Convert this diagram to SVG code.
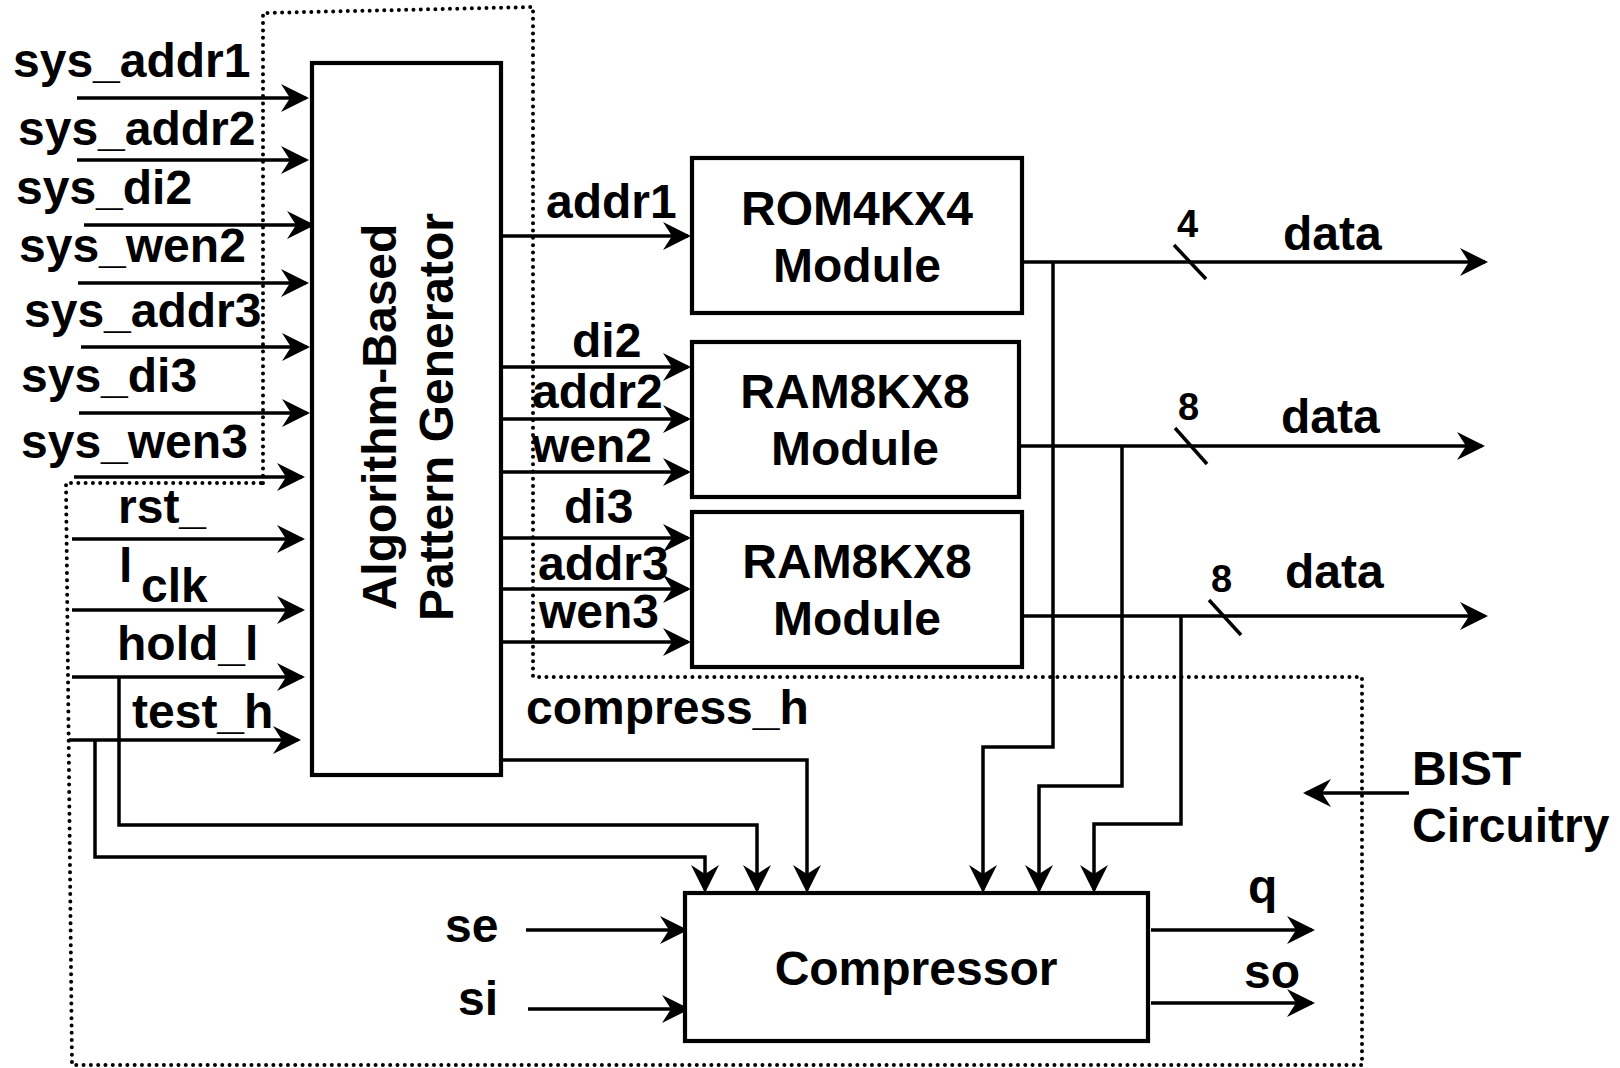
<svg xmlns="http://www.w3.org/2000/svg" width="1620" height="1068" viewBox="0 0 1620 1068">
<style>
.box{fill:#fff;stroke:#000;stroke-width:4.2}
.w{fill:none;stroke:#000;stroke-width:3.5;stroke-linejoin:miter}
.a{fill:none;stroke:#000;stroke-width:3.5;marker-end:url(#ah)}
.dot{fill:none;stroke:#000;stroke-width:4;stroke-linecap:round;stroke-dasharray:0 7.3}
text{font-family:"Liberation Sans",Arial,Helvetica,sans-serif;font-weight:bold;font-size:48px;fill:#000}
.c{text-anchor:middle}
.n{font-size:38px}
</style>
<defs>
<marker id="ah" markerUnits="userSpaceOnUse" viewBox="0 0 28 28" markerWidth="28" markerHeight="28" refX="25" refY="14" orient="auto">
<path d="M28,14 L0,0 L9,14 L0,28 Z" fill="#000"/>
</marker>
</defs>
<rect width="1620" height="1068" fill="#fff"/>

<g id="bist-boundary">
<path class="dot" d="M263,483 L263,13 L533,7 L533,677 L1362,677 L1362,1065 L72,1065 L66,483 Z"/>
</g>

<g id="connectors">
<line class="a" x1="77" y1="98" x2="306" y2="98"/>
<line class="a" x1="77" y1="160" x2="306" y2="160"/>
<line class="a" x1="84" y1="225" x2="312" y2="225"/>
<line class="a" x1="78" y1="283" x2="306" y2="283"/>
<line class="a" x1="81" y1="347" x2="307" y2="347"/>
<line class="a" x1="79" y1="413" x2="307" y2="413"/>
<line class="a" x1="74" y1="477" x2="302" y2="477"/>
<line class="a" x1="72" y1="539" x2="302" y2="539"/>
<line class="a" x1="72" y1="610" x2="302" y2="610"/>
<line class="a" x1="72" y1="677" x2="302" y2="677"/>
<line class="a" x1="69" y1="740" x2="298" y2="740"/>
<polyline class="a" points="119,677 119,825 757,825 757,890"/>
<polyline class="a" points="95,740 95,857 705,857 705,890"/>
<polyline class="a" points="501,760 807,760 807,890"/>
<line class="a" x1="501" y1="236" x2="688" y2="236"/>
<line class="a" x1="501" y1="367" x2="688" y2="367"/>
<line class="a" x1="501" y1="419" x2="688" y2="419"/>
<line class="a" x1="501" y1="472" x2="688" y2="472"/>
<line class="a" x1="501" y1="538" x2="688" y2="538"/>
<line class="a" x1="501" y1="589" x2="688" y2="589"/>
<line class="a" x1="501" y1="642" x2="688" y2="642"/>
<line class="a" x1="1022" y1="262" x2="1485" y2="262"/>
<line class="a" x1="1019" y1="446" x2="1482" y2="446"/>
<line class="a" x1="1022" y1="616" x2="1485" y2="616"/>
<polyline class="a" points="1053,262 1053,747 983,747 983,890"/>
<polyline class="a" points="1122,446 1122,786 1039,786 1039,890"/>
<polyline class="a" points="1181,616 1181,824 1094,824 1094,890"/>
<line class="w" x1="1174" y1="245" x2="1206" y2="279"/>
<line class="w" x1="1175" y1="428" x2="1207" y2="464"/>
<line class="w" x1="1209" y1="600" x2="1241" y2="635"/>
<line class="a" x1="526" y1="930" x2="685" y2="930"/>
<line class="a" x1="528" y1="1009" x2="687" y2="1009"/>
<line class="a" x1="1151" y1="930" x2="1312" y2="930"/>
<line class="a" x1="1151" y1="1003" x2="1312" y2="1003"/>
<line class="a" x1="1409" y1="793" x2="1306" y2="793"/>
</g>

<g id="pattern-generator">
<rect class="box" x="312" y="63" width="189" height="712"/>
<text class="c" transform="translate(396,417) rotate(-90)">Algorithm-Based</text>
<text class="c" transform="translate(453,417) rotate(-90)">Pattern Generator</text>
</g>

<g id="rom4kx4">
<rect class="box" x="692" y="158" width="330" height="155"/>
<text class="c" x="857" y="225">ROM4KX4</text>
<text class="c" x="857" y="282">Module</text>
</g>

<g id="ram8kx8-1">
<rect class="box" x="692" y="342" width="327" height="155"/>
<text class="c" x="855" y="408">RAM8KX8</text>
<text class="c" x="855" y="465">Module</text>
</g>

<g id="ram8kx8-2">
<rect class="box" x="692" y="512" width="330" height="155"/>
<text class="c" x="857" y="578">RAM8KX8</text>
<text class="c" x="857" y="635">Module</text>
</g>

<g id="compressor">
<rect class="box" x="685" y="893" width="463" height="148"/>
<text class="c" x="916" y="985">Compressor</text>
</g>

<g id="labels">
<text x="13" y="77">sys_addr1</text>
<text x="18" y="145">sys_addr2</text>
<text x="16" y="204">sys_di2</text>
<text x="19" y="262">sys_wen2</text>
<text x="24" y="327">sys_addr3</text>
<text x="21" y="392">sys_di3</text>
<text x="21" y="458">sys_wen3</text>
<text x="118" y="523">rst_</text>
<text x="119" y="582">l</text>
<text x="141" y="602">clk</text>
<text x="117" y="660">hold_l</text>
<text x="132" y="728">test_h</text>
<text x="546" y="218">addr1</text>
<text x="572" y="357">di2</text>
<text x="532" y="408">addr2</text>
<text x="532" y="462">wen2</text>
<text x="564" y="523">di3</text>
<text x="538" y="580">addr3</text>
<text x="539" y="628">wen3</text>
<text x="526" y="724">compress_h</text>
<text class="n" x="1177" y="237">4</text>
<text x="1283" y="250">data</text>
<text class="n" x="1178" y="420">8</text>
<text x="1281" y="433">data</text>
<text class="n" x="1211" y="592">8</text>
<text x="1285" y="588">data</text>
<text x="445" y="942">se</text>
<text x="458" y="1015">si</text>
<text x="1248" y="903">q</text>
<text x="1244" y="988">so</text>
<text x="1412" y="785">BIST</text>
<text x="1412" y="842">Circuitry</text>
</g>
</svg>
